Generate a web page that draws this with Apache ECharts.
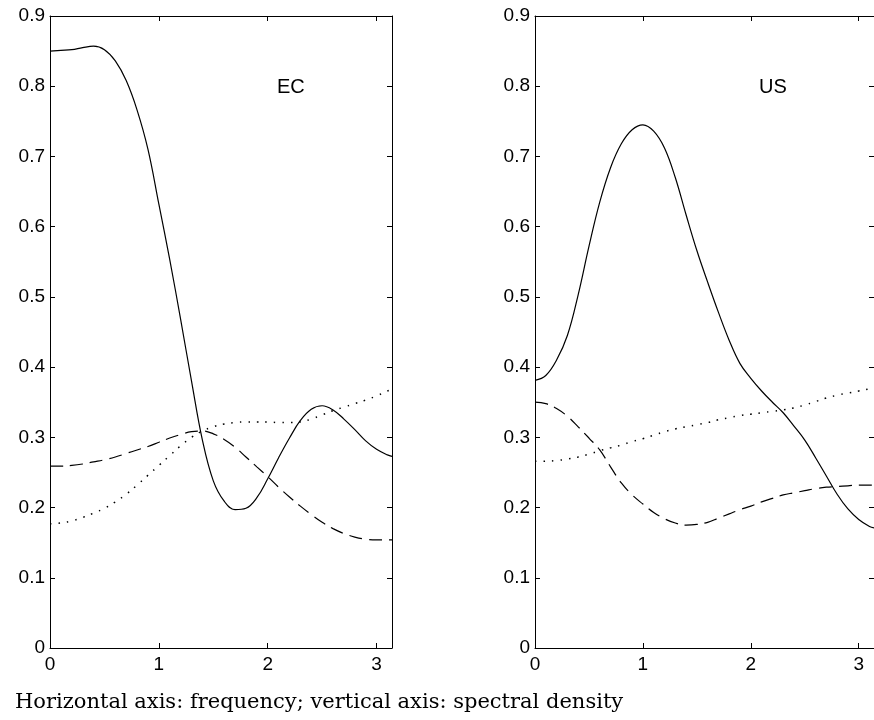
<!DOCTYPE html>
<html>
<head>
<meta charset="utf-8">
<script src="https://cdn.jsdelivr.net/npm/echarts@6/dist/echarts.min.js"></script>
<style>
  html, body { margin: 0; padding: 0; background: #fff; }
  #chart { width: 874px; height: 720px; }
</style>
</head>
<body>
<div id="chart"></div>
<script>
// frequency grid, 0 .. pi
var freq = [0, 0.1, 0.2, 0.3, 0.4, 0.5, 0.6, 0.7, 0.8, 0.9, 1.0, 1.1, 1.2, 1.3, 1.4, 1.5,
  1.6, 1.7, 1.8, 1.9, 2.0, 2.1, 2.2, 2.3, 2.4, 2.5, 2.6, 2.7, 2.8, 2.9, 3.0, 3.1, Math.PI];

// EC panel
var ecSolid = [0.850, 0.851, 0.852, 0.855, 0.857, 0.852, 0.836, 0.808, 0.766, 0.710, 0.632,
  0.553, 0.468, 0.380, 0.296, 0.238, 0.209, 0.197, 0.199, 0.214, 0.241, 0.271, 0.299,
  0.324, 0.340, 0.345, 0.339, 0.326, 0.311, 0.295, 0.283, 0.275, 0.273];
var ecDashed = [0.259, 0.259, 0.260, 0.262, 0.265, 0.268, 0.272, 0.277, 0.282, 0.287, 0.293,
  0.299, 0.304, 0.308, 0.309, 0.305, 0.297, 0.286, 0.272, 0.258, 0.244, 0.229, 0.215,
  0.202, 0.190, 0.179, 0.170, 0.163, 0.158, 0.155, 0.154, 0.154, 0.154];
var ecDotted = [0.177, 0.178, 0.181, 0.186, 0.192, 0.199, 0.208, 0.219, 0.232, 0.246, 0.260,
  0.274, 0.288, 0.300, 0.309, 0.315, 0.319, 0.321, 0.322, 0.322, 0.322, 0.321, 0.321,
  0.322, 0.326, 0.332, 0.338, 0.343, 0.348, 0.353, 0.359, 0.366, 0.368];

// US panel
var usSolid = [0.381, 0.388, 0.410, 0.445, 0.503, 0.572, 0.635, 0.684, 0.718, 0.738, 0.745,
  0.736, 0.712, 0.670, 0.617, 0.566, 0.521, 0.478, 0.438, 0.405, 0.384, 0.366, 0.350,
  0.335, 0.316, 0.296, 0.271, 0.245, 0.219, 0.198, 0.183, 0.173, 0.171];
var usDashed = [0.350, 0.348, 0.341, 0.330, 0.315, 0.299, 0.282, 0.258, 0.235, 0.218, 0.205,
  0.193, 0.184, 0.178, 0.175, 0.176, 0.179, 0.185, 0.191, 0.197, 0.202, 0.208, 0.213,
  0.218, 0.221, 0.224, 0.227, 0.229, 0.230, 0.231, 0.232, 0.232, 0.232];
var usDotted = [0.266, 0.266, 0.267, 0.269, 0.272, 0.276, 0.281, 0.285, 0.289, 0.294, 0.298,
  0.303, 0.308, 0.312, 0.315, 0.318, 0.321, 0.325, 0.328, 0.331, 0.333, 0.335, 0.337,
  0.339, 0.342, 0.346, 0.351, 0.356, 0.360, 0.363, 0.366, 0.369, 0.370];

var panelNames = ['EC', 'US'];
var caption = 'Horizontal axis: frequency; vertical axis: spectral density';

function pairs(vals) {
  return freq.map(function (f, i) { return [f, vals[i]]; });
}

var labelFont = { color: '#000', fontFamily: 'Liberation Sans', fontSize: 19 };
var axisLine = { show: true, onZero: false, lineStyle: { color: '#000', width: 1 } };
var tickIn = { show: true, inside: true, length: 5, lineStyle: { color: '#000' } };

function xAx(grid, pos, labels) {
  return {
    type: 'value', gridIndex: grid, position: pos, min: 0, max: Math.PI, interval: 1,
    axisLine: axisLine, axisTick: tickIn, splitLine: { show: false },
    axisLabel: Object.assign({ show: labels, margin: 7, showMaxLabel: false }, labelFont)
  };
}
function yAx(grid, pos, labels) {
  return {
    type: 'value', gridIndex: grid, position: pos, min: 0, max: 0.9, interval: 0.1,
    axisLine: axisLine, axisTick: tickIn, splitLine: { show: false },
    axisLabel: Object.assign({ show: labels, margin: 5 }, labelFont)
  };
}
function line(idx, vals, type) {
  var ls = { color: '#000', width: 1.2 };
  if (type === 'dashed') { ls.type = [13, 7]; }
  if (type === 'dotted') { ls.type = [1.5, 7]; ls.width = 1.5; }
  return {
    type: 'line', xAxisIndex: idx * 2, yAxisIndex: idx * 2, data: pairs(vals),
    showSymbol: false, smooth: 0.4, lineStyle: ls, silent: true, animation: false
  };
}

var chart = echarts.init(document.getElementById('chart'));
chart.setOption({
  animation: false,
  grid: [
    { left: 50, top: 16, width: 342, height: 632 },
    { left: 535, top: 16, width: 341, height: 632 }
  ],
  xAxis: [xAx(0, 'bottom', true), xAx(0, 'top', false), xAx(1, 'bottom', true), xAx(1, 'top', false)],
  yAxis: [yAx(0, 'left', true), yAx(0, 'right', false), yAx(1, 'left', true), yAx(1, 'right', false)],
  title: [
    { text: panelNames[0], left: 277, top: 77, padding: 0,
      textStyle: { fontFamily: 'Liberation Sans', fontWeight: 'normal', fontSize: 20, color: '#000' } },
    { text: panelNames[1], left: 759, top: 77, padding: 0,
      textStyle: { fontFamily: 'Liberation Sans', fontWeight: 'normal', fontSize: 20, color: '#000' } },
    { text: caption, left: 15, top: 692, padding: 0,
      textStyle: { fontFamily: 'DejaVu Serif', fontWeight: 'normal', fontSize: 21, color: '#000' } }
  ],
  series: [
    line(0, ecSolid, 'solid'), line(0, ecDashed, 'dashed'), line(0, ecDotted, 'dotted'),
    line(1, usSolid, 'solid'), line(1, usDashed, 'dashed'), line(1, usDotted, 'dotted')
  ]
});
</script>
</body>
</html>
